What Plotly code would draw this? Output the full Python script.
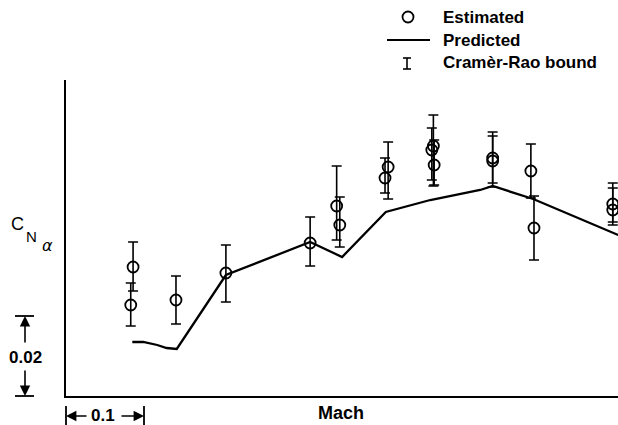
import plotly.graph_objects as go

# ---- data (Mach, C_N_alpha) ----
est_mach = [0.686, 0.683, 0.741, 0.805, 0.913, 0.947, 0.951, 1.013, 1.009,
            1.071, 1.069, 1.072, 1.147, 1.147, 1.196, 1.200, 1.301, 1.301]
est_cn = [0.03225, 0.02275, 0.0240, 0.03075, 0.03825, 0.0475, 0.04275, 0.05725, 0.0545,
          0.0625, 0.0615, 0.05775, 0.0595, 0.05875, 0.05625, 0.042, 0.048, 0.0465]
bound_hi = [0.0385, 0.02825, 0.030, 0.03775, 0.04475, 0.0575, 0.04975, 0.0635, 0.0595,
            0.07025, 0.067, 0.064, 0.066, 0.065, 0.063, 0.050, 0.05325, 0.052]
bound_lo = [0.02625, 0.0175, 0.018, 0.0235, 0.0325, 0.039, 0.03725, 0.04925, 0.05075,
            0.0525, 0.054, 0.05275, 0.05225, 0.05325, 0.0495, 0.034, 0.0435, 0.04275]

pred_mach = [0.685, 0.699, 0.717, 0.729, 0.742, 0.805, 0.913, 0.954, 1.010,
             1.067, 1.131, 1.147, 1.199, 1.308]
pred_cn = [0.0135, 0.0135, 0.01275, 0.012, 0.01175, 0.03025, 0.0385, 0.03475, 0.046,
           0.049, 0.0515, 0.0525, 0.04925, 0.04025]

legend_labels = ["Estimated", "Predicted", "Cramèr-Rao bound"]
scale_mach = 0.1
scale_cn = 0.02
scale_mach_label = "0.1"
scale_cn_label = "0.02"

x_rng = [0.6, 1.3077]
y_rng = [0.0, 0.079]

W, H = 618, 425
L, R, T, B = 66, 0, 80, 29
PW, PH = W - L - R, H - T - B


def X(px):
    return (px - L) / PW


def Y(py):
    return (H - B - py) / PH


def xp(m):
    return (m - x_rng[0]) / (x_rng[1] - x_rng[0])


def yp(c):
    return (c - y_rng[0]) / (y_rng[1] - y_rng[0])


err_plus = [h - v for h, v in zip(bound_hi, est_cn)]
err_minus = [v - l for v, l in zip(est_cn, bound_lo)]

fig = go.Figure()
fig.add_trace(go.Scatter(
    x=pred_mach, y=pred_cn, mode="lines",
    line=dict(color="black", width=2.3), name=legend_labels[1], hoverinfo="skip"))
fig.add_trace(go.Scatter(
    x=est_mach, y=est_cn, mode="markers",
    marker=dict(symbol="circle-open", size=11, color="black", line=dict(width=1.8)),
    error_y=dict(type="data", symmetric=False, array=err_plus, arrayminus=err_minus,
                 color="black", thickness=1.6, width=5),
    name=legend_labels[0]))

axis_common = dict(showline=True, linecolor="black", linewidth=2, showticklabels=False,
                   ticks="", showgrid=False, zeroline=False)
fig.update_layout(
    width=W, height=H, margin=dict(l=L, r=R, t=T, b=B),
    paper_bgcolor="white", plot_bgcolor="white", showlegend=False,
    xaxis=dict(range=x_rng, **axis_common),
    yaxis=dict(range=y_rng, **axis_common),
    font=dict(family="Liberation Sans", color="black"),
)

ann = []
shapes = []
bold = dict(family="Liberation Sans", size=17, color="black")

# legend (manual)
shapes.append(dict(type="circle", xref="paper", yref="paper", xsizemode="pixel", ysizemode="pixel",
                   xanchor=X(408), yanchor=Y(17), x0=-5.5, x1=5.5, y0=-5.5, y1=5.5,
                   line=dict(color="black", width=1.8)))
shapes.append(dict(type="line", xref="paper", yref="paper", x0=X(387), x1=X(430), y0=Y(40), y1=Y(40),
                   line=dict(color="black", width=2)))
shapes.append(dict(type="line", xref="paper", yref="paper", x0=X(407), x1=X(407), y0=Y(58), y1=Y(69),
                   line=dict(color="black", width=1.6)))
for yy in (58, 69):
    shapes.append(dict(type="line", xref="paper", yref="paper", x0=X(403), x1=X(411), y0=Y(yy), y1=Y(yy),
                       line=dict(color="black", width=1.6)))
for lab, yy in zip(legend_labels, (17, 40, 63)):
    ann.append(dict(text="<b>%s</b>" % lab, xref="paper", yref="paper", x=X(441), y=Y(yy),
                    xanchor="left", yanchor="middle", showarrow=False, font=bold))

# axis titles
ann.append(dict(text="<b>Mach</b>", xref="paper", yref="paper", x=X(341), y=Y(413),
                xanchor="center", yanchor="middle", showarrow=False,
                font=dict(family="Liberation Sans", size=18, color="black")))
ann.append(dict(text="C", xref="paper", yref="paper", x=X(17), y=Y(224), xanchor="center",
                yanchor="middle", showarrow=False, font=dict(family="Liberation Sans", size=18)))
ann.append(dict(text="N", xref="paper", yref="paper", x=X(31), y=Y(236), xanchor="center",
                yanchor="middle", showarrow=False, font=dict(family="Liberation Sans", size=15)))
ann.append(dict(text="<i>α</i>", xref="paper", yref="paper", x=X(47), y=Y(245), xanchor="center",
                yanchor="middle", showarrow=False, font=dict(family="DejaVu Sans", size=16)))

# vertical scale bar (0.02 in C_N_alpha)
top = yp(y_rng[0] + scale_cn)
bot = yp(y_rng[0])
for yy in (top, bot):
    shapes.append(dict(type="line", xref="paper", yref="paper", x0=X(15), x1=X(34), y0=yy, y1=yy,
                       line=dict(color="black", width=1.8)))
ann.append(dict(text="<b>%s</b>" % scale_cn_label, xref="paper", yref="paper", x=X(25), y=Y(357),
                xanchor="center", yanchor="middle", showarrow=False, font=bold))
ann.append(dict(text="", xref="paper", yref="paper", x=X(25), y=top, ax=0, ay=28,
                showarrow=True, arrowhead=2, arrowsize=1.3, arrowwidth=1.6, arrowcolor="black"))
ann.append(dict(text="", xref="paper", yref="paper", x=X(25), y=bot, ax=0, ay=-27,
                showarrow=True, arrowhead=2, arrowsize=1.3, arrowwidth=1.6, arrowcolor="black"))

# horizontal scale bar (0.1 Mach)
left = xp(x_rng[0])
right = xp(x_rng[0] + scale_mach)
for xx in (left, right):
    shapes.append(dict(type="line", xref="paper", yref="paper", x0=xx, x1=xx, y0=Y(406), y1=Y(425),
                       line=dict(color="black", width=1.8)))
ann.append(dict(text="<b>%s</b>" % scale_mach_label, xref="paper", yref="paper", x=X(103), y=Y(416),
                xanchor="center", yanchor="middle", showarrow=False, font=bold))
ann.append(dict(text="", xref="paper", yref="paper", x=left, y=Y(416), ax=22, ay=0,
                showarrow=True, arrowhead=2, arrowsize=1.3, arrowwidth=1.6, arrowcolor="black"))
ann.append(dict(text="", xref="paper", yref="paper", x=right, y=Y(416), ax=-24, ay=0,
                showarrow=True, arrowhead=2, arrowsize=1.3, arrowwidth=1.6, arrowcolor="black"))

fig.update_layout(annotations=ann, shapes=shapes)
fig.write_html("out.html", config={"displayModeBar": False},
               post_script="document.body.style.margin='0';document.body.style.overflow='hidden';")
